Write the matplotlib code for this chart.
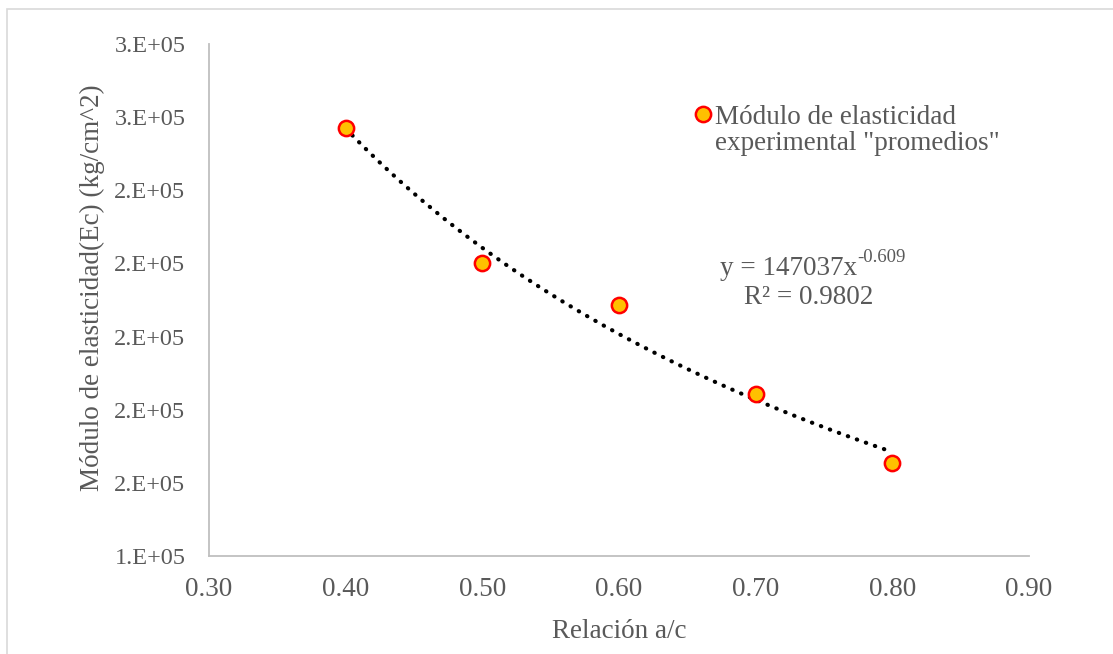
import numpy as np
import matplotlib
matplotlib.use("Agg")
import matplotlib.pyplot as plt
from matplotlib.ticker import FuncFormatter
from matplotlib.patches import Rectangle

# Data
ratio_ac = [0.40, 0.50, 0.60, 0.70, 0.80]
modulus = [257000, 220100, 208600, 184300, 165400]
fit_a = 147037
fit_b = -0.609
x_ticks = [0.30, 0.40, 0.50, 0.60, 0.70, 0.80, 0.90]
y_ticks = [140000, 160000, 180000, 200000, 220000, 240000, 260000, 280000]

plt.rcParams['font.family'] = ['Liberation Serif', 'DejaVu Serif']
txt = '#595959'
W, H = 1113, 654

fig = plt.figure(figsize=(W/100, H/100), dpi=100)
ax = fig.add_axes([209/W, 1-556/H, (1029-209)/W, (556-44)/H])

# chart border (cropped)
fig.patches.append(Rectangle((7/W, -0.1), 1.2, 1-9/H+0.1, transform=fig.transFigure,
                             fill=False, edgecolor='#D9D9D9', linewidth=1.2))

xf = np.linspace(ratio_ac[0], ratio_ac[-1], 200)
ax.plot(xf, fit_a * xf ** fit_b, color='black', linestyle=(0, (0.1, 2.2)),
        linewidth=3, dash_capstyle='round', zorder=2)
ax.plot(ratio_ac, modulus, linestyle='none', marker='o', markersize=11,
        markerfacecolor='#FFC000', markeredgecolor='#FF0000', markeredgewidth=1.8,
        zorder=3, label='Módulo de elasticidad')

ax.set_xlim(0.30, 0.90)
ax.set_ylim(140000, 280000)
ax.set_xticks(x_ticks)
ax.set_yticks(y_ticks)
ax.xaxis.set_major_formatter(FuncFormatter(lambda v, p: f"{v:.2f}"))

def efmt(v, p):
    s = f"{v:.0E}"
    m, e = s.split('E')
    return f"{m}.E{e[0]}{int(e[1:]):02d}"
ax.yaxis.set_major_formatter(FuncFormatter(efmt))

ax.tick_params(length=0, labelcolor=txt)
ax.tick_params(axis='x', labelsize=19.5, pad=15)
ax.tick_params(axis='y', labelsize=17.5, pad=17)
for s in ['top', 'right']:
    ax.spines[s].set_visible(False)
for s in ['left', 'bottom']:
    ax.spines[s].set_color('#BFBFBF')
    ax.spines[s].set_linewidth(1.3)

ax.set_xlabel('Relación a/c', fontsize=19.5, color=txt, labelpad=12)
ax.set_ylabel('Módulo de elasticidad(Ec) (kg/cm^2)', fontsize=19.5, color=txt)
ax.yaxis.set_label_coords((105-209)/820, (556-287.5)/512)

leg = ax.legend(loc='center left', bbox_to_anchor=((691-209)/820, 1-(117-44)/512),
                frameon=False, fontsize=19.5, handletextpad=0.0, handlelength=0.9,
                borderaxespad=0, borderpad=0)
for t in leg.get_texts():
    t.set_color(txt)
fig.text(715/W, 1-144/H, 'experimental "promedios"', fontsize=19.5, color=txt,
         ha='left', va='center')

eq = fig.text(720/W, 1-268/H, f'y = {fit_a}x', fontsize=19.5, color=txt,
              ha='left', va='center')
ax.annotate(f'{fit_b:.3f}', xy=(1.0, 0.6), xycoords=eq, fontsize=13.5, color=txt,
            ha='left', va='bottom')
fig.text(809/W, 1-298/H, 'R² = 0.9802', fontsize=19.5, color=txt, ha='center', va='center')

fig.savefig('out.png', dpi=100)
